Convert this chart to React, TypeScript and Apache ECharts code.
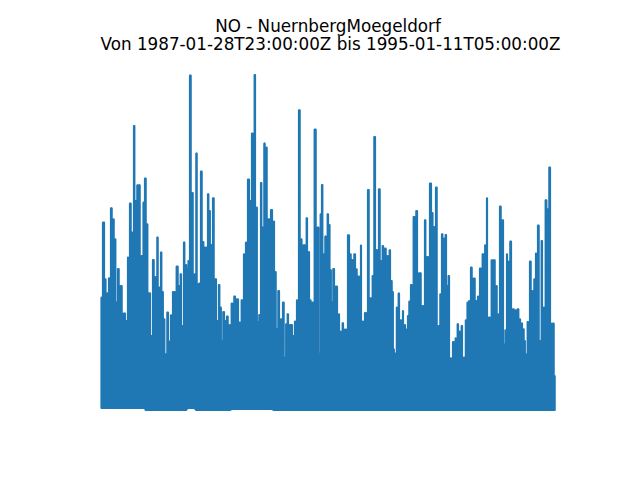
import React, { useEffect, useRef } from "react";
import * as echarts from "echarts";

const titleLines = ["NO - NuernbergMoegeldorf", "Von 1987-01-28T23:00:00Z bis 1995-01-11T05:00:00Z"];

// Upper envelope of the hidden-axis series: each run ends at a sample index and holds a peak value.
const runEnds = [
  3, 12, 15, 18, 21, 27, 35, 41, 45, 48, 56, 65, 75, 78, 84, 92, 96, 103, 106, 119, 126, 129, 137, 141, 150, 153, 161, 166, 173, 177,
  184, 187, 193, 196, 204, 207, 213, 224, 233, 236, 243, 246, 253, 258, 261, 264, 272, 278, 283, 290, 293, 297, 305, 309, 318, 325, 328, 330, 333, 341,
  348, 351, 358, 361, 364, 372, 375, 383, 389, 397, 405, 414, 419, 426, 432, 438, 447, 450, 458, 465, 470, 473, 477, 484, 487, 494, 500, 507, 516, 522,
  526, 529, 537, 543, 551, 554, 557, 564, 576, 579, 585, 591, 599, 604, 614, 621, 627, 630, 638, 647, 655, 658, 660, 667, 670,
  677, 684, 687, 692, 694, 702, 711, 717, 722, 729, 738, 747, 751, 757, 765, 769, 777, 783, 789, 798, 806, 813, 817, 825, 831, 839, 842, 849, 857, 863,
  870, 874, 877, 880, 885, 890, 897, 903, 909, 915, 919, 923, 927, 935, 943, 951, 962, 969, 976, 984, 993, 996, 1002, 1010, 1016, 1020, 1027, 1031, 1038, 1040,
  1047, 1053, 1061, 1067, 1074, 1079, 1086, 1092, 1097, 1102, 1107, 1115, 1124, 1128, 1134, 1142, 1150, 1155, 1161, 1169, 1184, 1190, 1194, 1202, 1209, 1212, 1215, 1221, 1225, 1233,
  1241, 1247, 1255, 1259, 1266, 1270, 1273, 1277, 1284, 1292, 1298, 1302, 1308, 1316, 1319, 1326, 1331, 1339, 1342, 1350, 1356, 1360, 1362,
];
const runPeaks = [
  343, 568, 398, 293, 356, 401, 611, 578, 518, 328, 429, 378, 295, 273, 463, 625, 538, 858, 633, 680, 468, 628, 700, 563, 356, 228, 456, 405, 523, 373,
  478, 360, 278, 173, 298, 211, 290, 360, 436, 378, 413, 258, 508, 441, 428, 453, 1009, 657, 413, 775, 383, 385, 721, 510, 493, 653, 603, 450, 501, 641,
  398, 273, 381, 313, 213, 300, 273, 286, 261, 325, 346, 338, 268, 335, 473, 508, 697, 633, 835, 1011, 613, 268, 291, 687, 553, 805, 793, 578, 606, 571,
  420, 248, 363, 278, 328, 163, 263, 293, 261, 228, 271, 335, 905, 518, 500, 581, 480, 335, 328, 847, 553, 175, 593, 681, 473,
  526, 593, 561, 425, 328, 429, 376, 293, 241, 266, 247, 530, 473, 456, 473, 428, 406, 499, 271, 297, 666, 341, 408, 825, 486, 668, 453, 498, 490, 468,
  485, 393, 360, 188, 175, 313, 355, 275, 303, 261, 247, 288, 331, 381, 585, 603, 416, 318, 575, 465, 685, 597, 555, 673, 258, 353, 533, 520, 531, 378,
  408, 161, 210, 221, 263, 241, 258, 163, 275, 328, 333, 433, 400, 333, 346, 430, 473, 500, 641, 283, 455, 378, 293, 616, 575, 203, 245, 473, 451, 511,
  308, 305, 308, 278, 265, 248, 213, 173, 270, 451, 363, 398, 475, 559, 213, 513, 313, 635, 608, 733, 265, 265, 108,
];
// Lower envelope of the series, also as runs.
const floorEnds = [132, 257, 285, 390, 517, 1362];
const floorValues = [12, 6, 12, 6, 9, 6];

const floorAt = (x: number) => {
  const i = floorEnds.findIndex((e) => x <= e);
  return floorValues[i < 0 ? floorValues.length - 1 : i];
};

const seriesData: number[][] = [];
runEnds.forEach((end, i) => {
  const start = i === 0 ? 0 : runEnds[i - 1];
  const peak = runPeaks[i];
  const xs: number[] = [];
  if (end - start <= 6) xs.push((start + end) / 2);
  else {
    for (let x = start + 3; x < end - 3; x += 3) xs.push(x);
    xs.push(end - 3);
  }
  xs.forEach((x) => {
    const f = floorAt(x);
    seriesData.push([x, f], [x, peak], [x, f]);
  });
});

const titleCentres = [328, 330.5];
const titleTops = [17.6, 35.4];

export default function App() {
  const ref = useRef<HTMLDivElement>(null);
  useEffect(() => {
    document.body.style.margin = "0";
    document.body.style.background = "#fff";
    const chart = echarts.init(ref.current!, undefined, { renderer: "svg" });
    chart.setOption({
      animation: false,
      backgroundColor: "#ffffff",
      title: titleLines.map((text, i) => ({
        text,
        left: titleCentres[i],
        top: titleTops[i],
        padding: 0,
        textAlign: "center",
        textStyle: {
          fontFamily: "DejaVu Sans",
          fontSize: 16.78,
          fontWeight: "normal",
          color: "#000000",
        },
      })),
      grid: { left: 101, top: 12, width: 454, height: 400 },
      xAxis: { type: "value", min: 0, max: 1362, show: false },
      yAxis: { type: "value", min: 0, max: 1200, show: false },
      series: [
        {
          type: "line",
          data: seriesData,
          showSymbol: false,
          symbol: "none",
          clip: false,
          lineStyle: { color: "#1f77b4", width: 2.2, join: "round", cap: "round" },
        },
      ],
    });
    return () => chart.dispose();
  }, []);
  return <div ref={ref} style={{ width: 640, height: 480 }} />;
}
